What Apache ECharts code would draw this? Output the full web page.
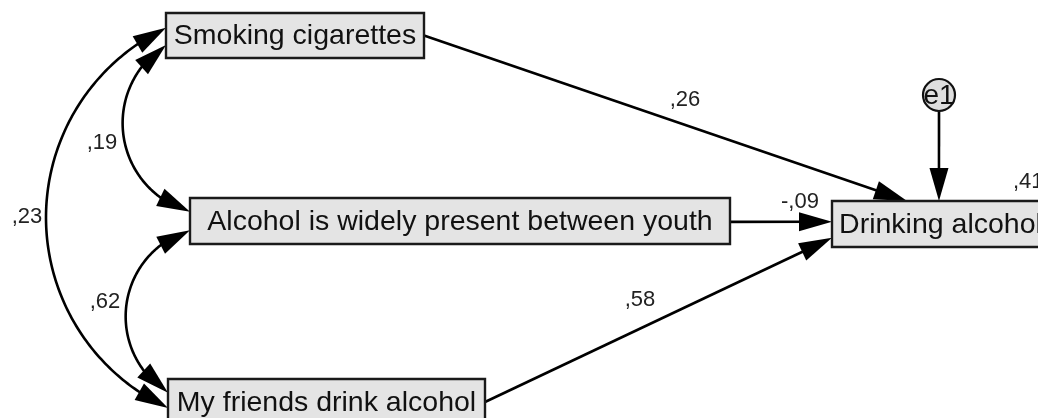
<!DOCTYPE html>
<html>
<head>
<meta charset="utf-8">
<script src="https://cdn.jsdelivr.net/npm/echarts@6/dist/echarts.min.js"></script>
<style>html,body{margin:0;padding:0;background:#fff}#chart{width:1038px;height:418px}</style>
</head>
<body>
<div id="chart"></div>
<script>
// ---------------- data ----------------
const observedVariables = ['Smoking cigarettes', 'Alcohol is widely present between youth', 'My friends drink alcohol', 'Drinking alcohol'];
const errorTerms = ['e1'];
const pathSources = ['Smoking cigarettes', 'Alcohol is widely present between youth', 'My friends drink alcohol'];
const pathTarget = 'Drinking alcohol';
const pathCoefficients = [0.26, -0.09, 0.58];
const covariancePairs = [
  ['Smoking cigarettes', 'Alcohol is widely present between youth'],
  ['Alcohol is widely present between youth', 'My friends drink alcohol'],
  ['Smoking cigarettes', 'My friends drink alcohol']
];
const correlations = [0.19, 0.62, 0.23];
const squaredMultipleCorrelation = 0.41;

// ---------------- layout (diagram units = pixels of the 1038x418 canvas) ----------------
const boxLayout = {
  'Smoking cigarettes': {x: 166, y: 13, w: 258, h: 45},
  'Alcohol is widely present between youth': {x: 190, y: 198, w: 540, h: 46},
  'My friends drink alcohol': {x: 168, y: 379, w: 317, h: 46},
  'Drinking alcohol': {x: 832, y: 201, w: 217, h: 46}
};
const errorLayout = {e1: {cx: 939, cy: 95, r: 16, toSide: 'top', toT: 0.493}};
const pathLayout = [
  {fromSide: 'right', fromT: 0.5, toSide: 'top', toT: 0.346, label: [685, 100]},
  {fromSide: 'right', fromT: 0.52, toSide: 'left', toT: 0.45, label: [800, 202]},
  {fromSide: 'right', fromT: 0.5, toSide: 'left', toT: 0.80, label: [640, 300]}
];
const covLayout = [
  {aSide: 'left', aT: 0.71, bSide: 'left', bT: 0.30, bulge: 55, label: [102, 143]},
  {aSide: 'left', aT: 0.70, bSide: 'left', bT: 0.30, bulge: 53, label: [105, 302]},
  {aSide: 'left', aT: 0.33, bSide: 'left', bT: 0.63, bulge: 121, label: [27, 217]}
];
const r2Layout = {x: 1013, y: 182};

// ---------------- styles ----------------
const FONT = "'Liberation Sans', Arial, sans-serif";
const BOX_FONT = 28.5;
const LABEL_FONT = 22;
const LINE_W = 2.6;
const ARROW_L = 33;
const ARROW_W = 19;

function fmt(v) {
  return (v < 0 ? '-' : '') + ',' + String(Math.round(Math.abs(v) * 100)).padStart(2, '0');
}
function anchor(name, side, t) {
  const b = boxLayout[name];
  if (side === 'left') return [b.x, b.y + b.h * t];
  if (side === 'right') return [b.x + b.w, b.y + b.h * t];
  if (side === 'top') return [b.x + b.w * t, b.y];
  return [b.x + b.w * t, b.y + b.h];
}
function arrowHead(tip, back) {
  const dx = tip[0] - back[0], dy = tip[1] - back[1];
  const len = Math.hypot(dx, dy) || 1;
  const ux = dx / len, uy = dy / len;
  const bx = tip[0] - ux * ARROW_L, by = tip[1] - uy * ARROW_L;
  return {
    type: 'polygon',
    shape: {points: [tip, [bx - uy * ARROW_W / 2, by + ux * ARROW_W / 2], [bx + uy * ARROW_W / 2, by - ux * ARROW_W / 2]]},
    style: {fill: '#000'}
  };
}
function circle3(p1, p2, p3) {
  const ax = p1[0], ay = p1[1], bx = p2[0], by = p2[1], cx = p3[0], cy = p3[1];
  const d = 2 * (ax * (by - cy) + bx * (cy - ay) + cx * (ay - by));
  const ux = ((ax * ax + ay * ay) * (by - cy) + (bx * bx + by * by) * (cy - ay) + (cx * cx + cy * cy) * (ay - by)) / d;
  const uy = ((ax * ax + ay * ay) * (cx - bx) + (bx * bx + by * by) * (ax - cx) + (cx * cx + cy * cy) * (bx - ax)) / d;
  return [ux, uy, Math.hypot(ax - ux, ay - uy)];
}
function arcPoints(a, apex, b, n) {
  const [ux, uy, r] = circle3(a, apex, b);
  const TAU = Math.PI * 2;
  const norm = x => ((x % TAU) + TAU) % TAU;
  const ang = p => Math.atan2(p[1] - uy, p[0] - ux);
  const a1 = ang(a), a2 = ang(apex), a3 = ang(b);
  const d13 = norm(a3 - a1), d12 = norm(a2 - a1);
  const sweep = d12 < d13 ? d13 : d13 - TAU;
  const pts = [];
  for (let i = 0; i <= n; i++) {
    const t = a1 + sweep * i / n;
    pts.push([ux + r * Math.cos(t), uy + r * Math.sin(t)]);
  }
  return pts;
}
function backPoint(pts, fromEnd) {
  const list = fromEnd ? pts.slice().reverse() : pts;
  const tip = list[0];
  for (const p of list) if (Math.hypot(p[0] - tip[0], p[1] - tip[1]) >= ARROW_L) return p;
  return list[list.length - 1];
}

const chart = echarts.init(document.getElementById('chart'), null, {renderer: 'canvas'});

const option = {
  animation: false,
  backgroundColor: '#ffffff',
  grid: {left: 0, right: 0, top: 0, bottom: 0, containLabel: false},
  xAxis: {type: 'value', min: 0, max: 1038, show: false},
  yAxis: {type: 'value', min: 0, max: 418, inverse: true, show: false},
  series: [
    // covariance double-headed arcs
    {
      type: 'custom', coordinateSystem: 'cartesian2d', z: 2,
      data: correlations.map((v, i) => ({value: [covLayout[i].label[0], covLayout[i].label[1], v]})),
      renderItem(params, api) {
        const i = params.dataIndex, lay = covLayout[i], pair = covariancePairs[i];
        const a = api.coord(anchor(pair[0], lay.aSide, lay.aT));
        const b = api.coord(anchor(pair[1], lay.bSide, lay.bT));
        const mx = (a[0] + b[0]) / 2, my = (a[1] + b[1]) / 2;
        const dx = b[0] - a[0], dy = b[1] - a[1], len = Math.hypot(dx, dy);
        let nx = -dy / len, ny = dx / len;
        if (nx > 0) { nx = -nx; ny = -ny; }
        const apex = [mx + nx * lay.bulge, my + ny * lay.bulge];
        const pts = arcPoints(a, apex, b, 160);
        const trimmed = pts.filter(p => Math.hypot(p[0] - a[0], p[1] - a[1]) > ARROW_L * 0.6 && Math.hypot(p[0] - b[0], p[1] - b[1]) > ARROW_L * 0.6);
        const lp = api.coord([api.value(0), api.value(1)]);
        return {
          type: 'group',
          children: [
            {type: 'polyline', shape: {points: trimmed}, style: {stroke: '#000', lineWidth: LINE_W, fill: null}},
            arrowHead(a, backPoint(pts, false)),
            arrowHead(b, backPoint(pts, true)),
            {type: 'text', style: {text: fmt(api.value(2)), x: lp[0], y: lp[1], align: 'center', verticalAlign: 'middle', fontSize: LABEL_FONT, fontFamily: FONT, fill: '#222'}}
          ]
        };
      }
    },
    // regression paths
    {
      type: 'custom', coordinateSystem: 'cartesian2d', z: 2,
      data: pathCoefficients.map((v, i) => ({value: [pathLayout[i].label[0], pathLayout[i].label[1], v]})),
      renderItem(params, api) {
        const i = params.dataIndex, lay = pathLayout[i];
        const s = api.coord(anchor(pathSources[i], lay.fromSide, lay.fromT));
        const t = api.coord(anchor(pathTarget, lay.toSide, lay.toT));
        const len = Math.hypot(t[0] - s[0], t[1] - s[1]);
        const ux = (t[0] - s[0]) / len, uy = (t[1] - s[1]) / len;
        const end = [t[0] - ux * ARROW_L * 0.6, t[1] - uy * ARROW_L * 0.6];
        const lp = api.coord([api.value(0), api.value(1)]);
        return {
          type: 'group',
          children: [
            {type: 'line', shape: {x1: s[0], y1: s[1], x2: end[0], y2: end[1]}, style: {stroke: '#000', lineWidth: LINE_W}},
            arrowHead(t, s),
            {type: 'text', style: {text: fmt(api.value(2)), x: lp[0], y: lp[1], align: 'center', verticalAlign: 'middle', fontSize: LABEL_FONT, fontFamily: FONT, fill: '#222'}}
          ]
        };
      }
    },
    // error term
    {
      type: 'custom', coordinateSystem: 'cartesian2d', z: 3,
      data: errorTerms.map(e => ({value: [errorLayout[e].cx, errorLayout[e].cy]})),
      renderItem(params, api) {
        const name = errorTerms[params.dataIndex], lay = errorLayout[name];
        const c = api.coord([api.value(0), api.value(1)]);
        const start = api.coord([lay.cx, lay.cy + lay.r]);
        const t = api.coord(anchor(pathTarget, lay.toSide, lay.toT));
        return {
          type: 'group',
          children: [
            {type: 'line', shape: {x1: start[0], y1: start[1], x2: t[0], y2: t[1] - ARROW_L * 0.6}, style: {stroke: '#000', lineWidth: LINE_W}},
            arrowHead(t, start),
            {type: 'circle', shape: {cx: c[0], cy: c[1], r: lay.r}, style: {fill: '#dedede', stroke: '#111', lineWidth: 2.2}},
            {type: 'text', style: {text: name, x: c[0], y: c[1] + 1, align: 'center', verticalAlign: 'middle', fontSize: 28, fontFamily: FONT, fill: '#111'}}
          ]
        };
      }
    },
    // observed variable boxes
    {
      type: 'custom', coordinateSystem: 'cartesian2d', z: 4,
      data: observedVariables.map(n => ({value: [boxLayout[n].x + boxLayout[n].w / 2, boxLayout[n].y + boxLayout[n].h / 2]})),
      renderItem(params, api) {
        const name = observedVariables[params.dataIndex], b = boxLayout[name];
        const p0 = api.coord([b.x, b.y]), p1 = api.coord([b.x + b.w, b.y + b.h]);
        const c = api.coord([api.value(0), api.value(1)]);
        const children = [
          {type: 'rect', shape: {x: p0[0], y: p0[1], width: p1[0] - p0[0], height: p1[1] - p0[1]}, style: {fill: '#e4e4e4', stroke: '#1a1a1a', lineWidth: 2.4}},
          {type: 'text', style: {text: name, x: c[0], y: c[1] + 1, align: 'center', verticalAlign: 'middle', fontSize: BOX_FONT, fontFamily: FONT, fill: '#111'}}
        ];
        if (name === pathTarget) {
          const rp = api.coord([r2Layout.x, r2Layout.y]);
          children.push({type: 'text', style: {text: fmt(squaredMultipleCorrelation), x: rp[0], y: rp[1], align: 'left', verticalAlign: 'middle', fontSize: LABEL_FONT, fontFamily: FONT, fill: '#222'}});
        }
        return {type: 'group', children};
      }
    }
  ]
};
chart.setOption(option);
</script>
</body>
</html>
